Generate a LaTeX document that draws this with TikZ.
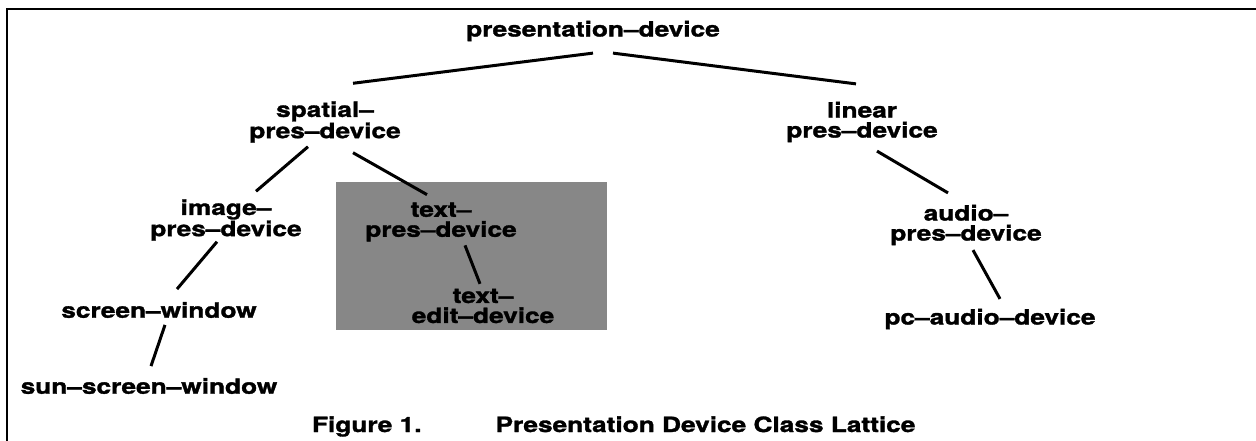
\documentclass[tikz,border=0pt]{standalone}
\usepackage{fontspec}
\setmainfont{TeX Gyre Heros}[FakeStretch=1.25, BoldFeatures={FakeBold=1.5}]
\begin{document}
\begin{tikzpicture}[x=1pt,y=-1pt,
  lbl/.style={inner sep=0pt, outer sep=0pt, align=center, font=\fontsize{21}{20}\selectfont\bfseries},
  edge/.style={line width=3pt},
  frame/.style={line width=2.8pt}]
\useasboundingbox (0,0) rectangle (1256,441);
\draw[frame] (7,441) -- (7,9) -- (1256,9);
\fill[black!47] (336,182) rectangle (607,330);
\node[lbl] (pd) at (593,31) {presentation–device};
\node[lbl] (sp) at (325,122) {spatial–\\pres–device};
\node[lbl] (lp) at (862,122) {linear\\pres–device};
\node[lbl] (ip) at (226,220) {image–\\pres–device};
\node[lbl] (tp) at (441,222) {text–\\pres–device};
\node[lbl] (te) at (483,306) {text–\\edit–device};
\node[lbl] (ap) at (966,225) {audio–\\pres–device};
\node[lbl] (sw) at (159,310) {screen–window};
\node[lbl] (ssw) at (149,386) {sun–screen–window};
\node[lbl] (pc) at (990,319) {pc–audio–device};
\node[lbl, anchor=base west] (cap) at (312,432) {Figure 1.\hspace{74pt}Presentation Device Class Lattice};
\draw[edge] ([yshift=-12pt]pd.south) -- ([xshift=28pt,yshift=18pt]sp.north);
\draw[edge] ([xshift=20pt,yshift=-12pt]pd.south) -- ([xshift=-6pt,yshift=18pt]lp.north);
\draw[edge] ([xshift=-17pt,yshift=-4pt]sp.south) -- ([xshift=30pt,yshift=8pt]ip.north);
\draw[edge] ([xshift=28pt,yshift=-10pt]sp.south) -- ([xshift=-14pt,yshift=8pt]tp.north);
\draw[edge] ([xshift=24pt,yshift=-4pt]tp.south) -- ([xshift=-3pt,yshift=5pt]te.north);
\draw[edge] ([xshift=-9pt,yshift=-1pt]ip.south) -- ([xshift=18pt,yshift=13pt]sw.north);
\draw[edge] ([xshift=6pt,yshift=-7pt]sw.south) -- ([xshift=2pt,yshift=12pt]ssw.north);
\draw[edge] ([xshift=15pt,yshift=-9pt]lp.south) -- ([xshift=-18pt,yshift=12pt]ap.north);
\draw[edge] ([xshift=7pt,yshift=-5pt]ap.south) -- ([xshift=10pt,yshift=10pt]pc.north);
\end{tikzpicture}
\end{document}
